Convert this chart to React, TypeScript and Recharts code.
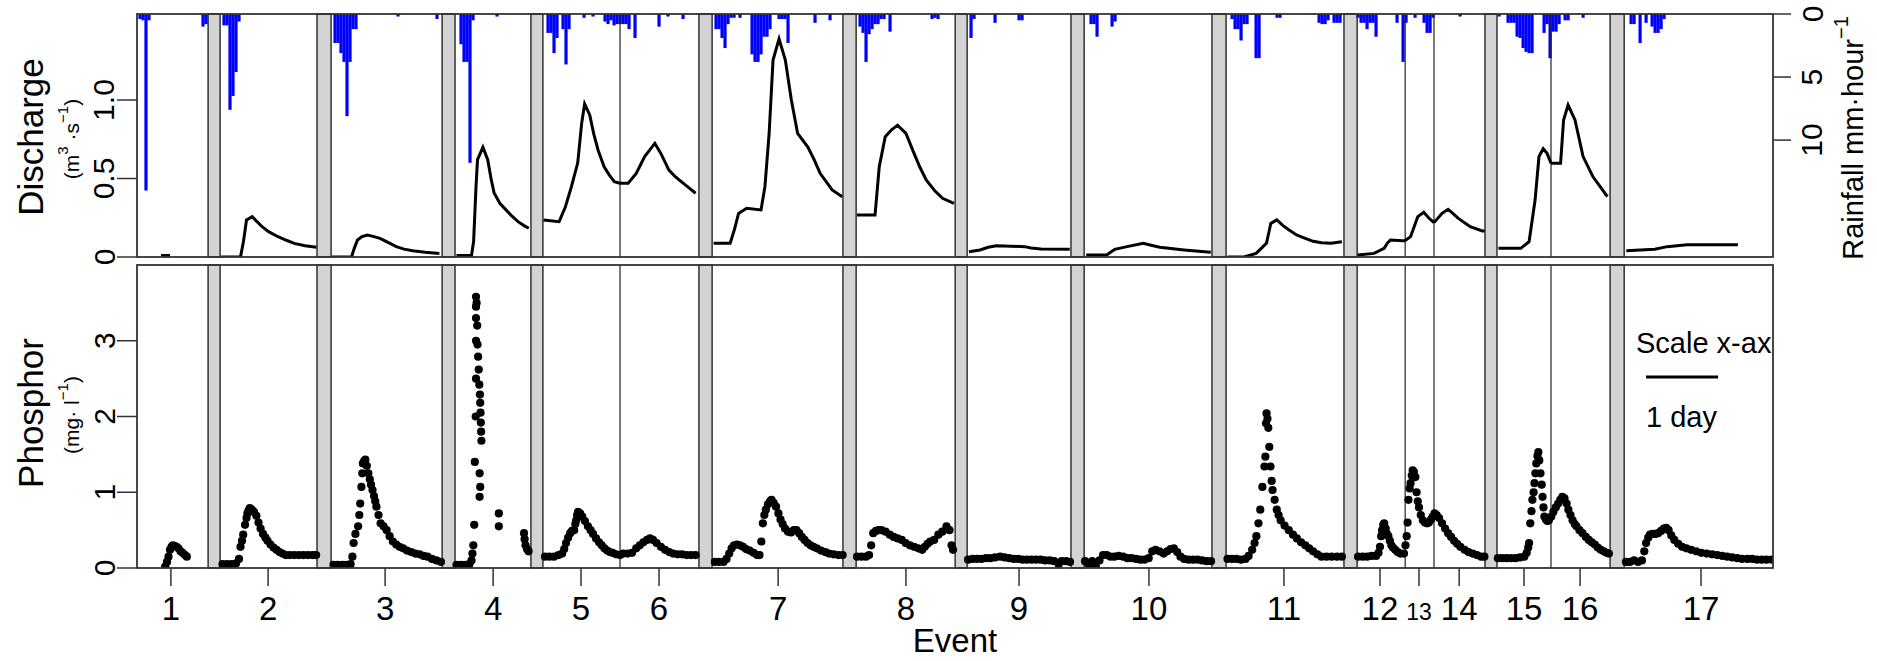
import React from 'react';
import { ComposedChart, Line, Bar, Scatter, XAxis, YAxis, ReferenceArea, ReferenceLine } from 'recharts';

const FONT = '"Liberation Sans", Arial, Helvetica, sans-serif';

// x axis = elapsed hours, events laid end to end
const X_MAX = 545.3;

const eventLabels = ['1', '2', '3', '4', '5', '6', '7', '8', '9', '10', '11', '12', '13', '14', '15', '16', '17'];
const eventTicks = [11.3, 43.7, 82.7, 118.7, 148, 174, 213.7, 256.3, 294, 337.3, 382.3, 414.3, 427.3, 440.7, 462.3, 481, 521.3];

// grey gaps between events (hours)
const gapStart = [23.7, 60, 101.7, 131.3, 187.3, 235.3, 272.7, 311.3, 358.3, 402.3, 449.3, 491];
const gapEnd = [27.7, 64.7, 106, 135.3, 191.7, 239.7, 276.7, 315.7, 363, 406.7, 453.3, 495.7];
// events that follow each other directly
const splitLines = [161, 422.7, 432.3, 471.3];

// rainfall [hour, mm/h]
const rainfall: [number, number][] = [
  [1, 0.4], [2, 0.5], [3, 14], [4, 0.5], [22, 1.0], [23, 0.8],
  [29, 0.9], [30, 0.9], [31, 7.6], [32, 6.5], [33, 4.6], [34, 0.6],
  [66, 2.3], [67, 2.3], [68, 3.1], [69, 3.8], [70, 8.1], [71, 3.8], [72, 1.2], [73, 1.2], [87, 0.2], [100, 0.4],
  [108, 2.4], [109, 3.8], [110, 3.8], [111, 11.8], [112, 0.5], [120, 0.2],
  [137, 1.5], [138, 1.5], [139, 3.1], [140, 1.9], [142, 1.2], [143, 4.0], [144, 1.2], [149, 0.3], [152, 0.2],
  [156, 0.6], [157, 0.8], [158, 0.5], [159, 0.9], [160, 0.8],
  [161, 0.8], [162, 0.8], [163, 0.8], [164, 1.2], [166, 1.9], [174, 1.0], [177, 0.2], [182, 0.4],
  [193, 1.2], [194, 1.2], [195, 1.9], [196, 2.7], [197, 0.8], [198, 0.3], [199, 0.3], [201, 0.3],
  [205, 3.2], [206, 3.8], [207, 3.8], [208, 3.2], [209, 1.8], [210, 1.8], [211, 1.2], [214, 0.4], [215, 0.4],
  [216, 0.4], [217, 2.3], [226, 0.7], [231, 0.5],
  [241, 1.0], [242, 1.5], [243, 3.8], [244, 1.6], [245, 1.2], [246, 0.8], [247, 0.8], [248, 0.4], [249, 0.4],
  [251, 1.4], [265, 0.4], [266, 0.3], [267, 0.4],
  [278, 1.9], [279, 0.4], [286, 0.7], [294, 0.5], [295, 0.5],
  [318, 0.8], [319, 0.8], [320, 1.8], [325, 1.0], [326, 0.6],
  [365, 0.4], [366, 1.2], [367, 1.2], [368, 2.1], [369, 0.8], [370, 0.8], [373, 3.5], [374, 3.5], [380, 0.3],
  [381, 0.3], [394, 0.7], [395, 0.8], [396, 0.8], [397, 0.5], [399, 0.7], [400, 0.7], [401, 0.7],
  [407, 0.3], [408, 0.7], [409, 0.7], [410, 1.2], [411, 0.7], [412, 0.7], [413, 1.8], [420, 0.7], [422, 3.8],
  [423, 0.7], [426, 0.3], [429, 0.7], [430, 1.5], [431, 1.5], [432, 0.3], [441, 0.2],
  [454, 0.2], [457, 0.7], [458, 0.7], [459, 0.7], [460, 1.8], [461, 1.9], [462, 2.7], [463, 3.0], [464, 3.1],
  [465, 3.1], [469, 1.5], [470, 0.8], [471, 3.5],
  [472, 1.4], [473, 1.4], [474, 0.8], [476, 0.5], [477, 0.5], [482, 0.3],
  [498, 0.8], [499, 0.8], [501, 2.3], [503, 0.7], [505, 1.0], [506, 1.5], [507, 1.5], [508, 1.2], [509, 0.4],
];

// discharge [hour, m3/s] per event
const q1: [number, number][] = [[8, 0.01], [11, 0.01]];
const q2: [number, number][] = [[28, 0.0], [34.5, 0.0], [35.5, 0.1], [36.5, 0.236], [38.4, 0.257], [40, 0.225], [41.7, 0.193], [44, 0.16], [47, 0.129], [50, 0.105], [52.4, 0.087], [56, 0.072], [59.8, 0.062]];
const q3: [number, number][] = [[65, 0.0], [71.5, 0.0], [72.5, 0.06], [73.5, 0.108], [75, 0.13], [76.8, 0.14], [79, 0.13], [81, 0.119], [84, 0.09], [86.4, 0.066], [89, 0.05], [91.9, 0.04], [96, 0.03], [100.8, 0.023]];
const q4: [number, number][] = [[106.5, 0.01], [111.5, 0.01], [112.2, 0.1], [113, 0.45], [113.5, 0.62], [115.3, 0.7], [116.9, 0.62], [118, 0.5], [119, 0.41], [121, 0.34], [123, 0.3], [125, 0.26], [127, 0.225], [129, 0.2], [130.6, 0.183]];
const q5: [number, number][] = [[135.5, 0.236], [140.7, 0.225], [142.8, 0.32], [144.8, 0.448], [146.9, 0.6], [148.2, 0.85], [149.2, 0.975], [150.9, 0.905], [152.3, 0.78], [153.7, 0.68], [155.7, 0.575], [157.5, 0.52], [159.1, 0.48], [161, 0.47]];
const q6: [number, number][] = [[161, 0.47], [163.7, 0.47], [166.4, 0.533], [169.2, 0.64], [172.6, 0.724], [174.6, 0.66], [177.3, 0.554], [179.5, 0.51], [181.4, 0.48], [184, 0.44], [186.2, 0.406]];
const q7: [number, number][] = [[192.2, 0.087], [197.7, 0.087], [199.2, 0.18], [200.5, 0.278], [203.2, 0.31], [208, 0.3], [209.3, 0.448], [210.7, 0.787], [212, 1.255], [214, 1.39], [216.1, 1.255], [218.1, 1.0], [220.2, 0.787], [223.6, 0.7], [225.7, 0.62], [227.7, 0.533], [231.7, 0.427], [235.1, 0.384]];
const q8: [number, number][] = [[240, 0.267], [246, 0.267], [247.4, 0.575], [249.4, 0.766], [251.5, 0.81], [253.5, 0.84], [256.3, 0.787], [259, 0.66], [261, 0.57], [263.1, 0.49], [266, 0.42], [268.5, 0.374], [272.3, 0.342]];
const q9: [number, number][] = [[277.3, 0.034], [281, 0.045], [283.7, 0.062], [286.4, 0.072], [295.9, 0.066], [298, 0.058], [301.3, 0.051], [310.9, 0.049]];
const q10: [number, number][] = [[316.4, 0.013], [323.2, 0.013], [325.9, 0.049], [330, 0.066], [335.4, 0.087], [338, 0.075], [340.9, 0.062], [349, 0.045], [357.9, 0.03]];
const q11: [number, number][] = [[363.5, 0.0], [369, 0.0], [373, 0.023], [375, 0.06], [376.5, 0.089], [377.9, 0.214], [379.9, 0.236], [382, 0.2], [384, 0.172], [386.5, 0.14], [389.4, 0.119], [392, 0.1], [394.8, 0.091], [398, 0.088], [401.6, 0.097]];
const q12: [number, number][] = [[406.9, 0.013], [412.3, 0.023], [415.7, 0.055], [416.8, 0.09], [417.8, 0.108], [421.8, 0.104], [422.7, 0.104]];
const q13: [number, number][] = [[422.7, 0.104], [424.5, 0.13], [425.3, 0.172], [426.9, 0.257], [428.9, 0.285], [430.5, 0.25], [432.3, 0.219]];
const q14: [number, number][] = [[432.3, 0.219], [435, 0.278], [437, 0.304], [438.5, 0.28], [440.4, 0.246], [444.4, 0.193], [448.4, 0.166], [449.2, 0.165]];
const q15: [number, number][] = [[453.8, 0.055], [461.2, 0.055], [464, 0.097], [466, 0.363], [467.3, 0.64], [468.7, 0.69], [470, 0.66], [471.3, 0.597]];
const q16: [number, number][] = [[471.3, 0.597], [474.5, 0.597], [475.5, 0.873], [477, 0.968], [479.3, 0.873], [482, 0.64], [485.3, 0.511], [488, 0.44], [490.1, 0.384]];
const q17: [number, number][] = [[496.4, 0.04], [505.9, 0.049], [510, 0.066], [516.7, 0.078], [533.6, 0.078]];

// phosphorus [hour, mg/l] per event
const p1: [number, number][] = [[9.4, 0.02], [10, 0.08], [10.5, 0.15], [11, 0.24], [11.5, 0.28], [12, 0.3], [12.6, 0.29], [13.2, 0.28], [13.8, 0.26], [14.5, 0.22], [15.2, 0.2], [16, 0.17], [16.6, 0.15]];
const p2: [number, number][] = [[28.5, 0.05], [30, 0.05], [31.5, 0.05], [33, 0.06], [34, 0.12], [34.5, 0.28], [35, 0.36], [35.4, 0.44], [36, 0.57], [36.5, 0.66], [36.8, 0.72], [37.2, 0.76], [37.6, 0.79], [38.3, 0.77], [39, 0.74], [39.8, 0.69], [40.5, 0.6], [41.2, 0.52], [42, 0.45], [42.8, 0.4], [43.5, 0.36], [44.5, 0.31], [45.5, 0.27], [46.5, 0.24], [47.5, 0.21], [48.5, 0.19], [49.6, 0.17], [51, 0.17], [52.5, 0.17], [54, 0.17], [55.5, 0.17], [57, 0.17], [58.5, 0.17], [59.7, 0.17]];
const p3: [number, number][] = [[65.5, 0.04], [67, 0.04], [68.5, 0.04], [70, 0.04], [71.2, 0.05], [71.8, 0.15], [72.2, 0.33], [72.8, 0.45], [73.7, 0.55], [74.1, 0.7], [74.4, 0.85], [74.8, 1.07], [75.1, 1.25], [75.3, 1.38], [75.7, 1.41], [76.1, 1.43], [76.6, 1.35], [77.1, 1.25], [77.6, 1.17], [78, 1.1], [78.5, 1.03], [79, 0.95], [79.4, 0.88], [79.8, 0.81], [80.5, 0.7], [81.2, 0.59], [82.2, 0.55], [83.2, 0.5], [84.2, 0.42], [85.3, 0.35], [86.4, 0.31], [87.5, 0.28], [88.7, 0.26], [90, 0.23], [91.4, 0.21], [92.8, 0.19], [94.2, 0.18], [95.5, 0.16], [96.8, 0.15], [98.3, 0.12], [99.8, 0.1], [101.3, 0.08]];
const p4: [number, number][] = [[106.5, 0.04], [108, 0.04], [109.5, 0.04], [110.8, 0.05], [111.5, 0.1], [111.8, 0.19], [112.1, 0.3], [112.4, 0.57], [112.6, 1.4], [112.9, 2.0], [113, 2.5], [113, 3.0], [113, 3.3], [113, 3.45], [113, 3.58], [113.2, 3.5], [113.4, 3.2], [113.5, 2.95], [113.7, 2.79], [113.9, 2.62], [114.1, 2.42], [114.3, 2.29], [114.4, 2.18], [114.5, 2.05], [114.6, 1.92], [114.7, 1.8], [114.8, 1.68], [114.2, 1.25], [114.4, 1.07], [114.2, 0.94], [120.6, 0.72], [120.6, 0.55], [129, 0.46], [129.2, 0.38], [129.5, 0.3], [130, 0.25], [130.5, 0.22]];
const p5: [number, number][] = [[136, 0.15], [137.5, 0.15], [139, 0.15], [140.5, 0.17], [141.7, 0.19], [142.4, 0.25], [143, 0.33], [143.7, 0.4], [144.4, 0.46], [145, 0.49], [145.7, 0.5], [146.1, 0.58], [146.4, 0.63], [146.7, 0.7], [147, 0.74], [147.7, 0.72], [148.4, 0.68], [149.3, 0.62], [150.3, 0.55], [151.2, 0.5], [152, 0.45], [153, 0.39], [154, 0.34], [154.9, 0.3], [155.8, 0.26], [156.7, 0.23], [157.6, 0.21], [158.5, 0.2], [159.7, 0.18], [161, 0.17]];
const p6: [number, number][] = [[162, 0.19], [163.5, 0.19], [165, 0.2], [166.4, 0.26], [167.6, 0.3], [168.8, 0.34], [170, 0.37], [171, 0.39], [172, 0.37], [173.2, 0.33], [174.6, 0.28], [176, 0.24], [177.4, 0.21], [178.7, 0.19], [180.2, 0.18], [181.7, 0.18], [183.2, 0.17], [184.7, 0.17], [186.2, 0.17]];
const p7: [number, number][] = [[192.6, 0.08], [194, 0.08], [195.5, 0.08], [196.5, 0.12], [197.4, 0.19], [198.2, 0.26], [199, 0.3], [200, 0.31], [201, 0.3], [202, 0.28], [203, 0.25], [204.2, 0.23], [205.5, 0.2], [206.7, 0.17], [207.5, 0.17], [208.1, 0.35], [208.6, 0.59], [209.1, 0.7], [209.6, 0.77], [210.3, 0.84], [211, 0.88], [211.5, 0.9], [212.2, 0.86], [213, 0.81], [213.8, 0.72], [214.5, 0.64], [215.2, 0.58], [216, 0.52], [217, 0.48], [218, 0.47], [218.9, 0.5], [219.8, 0.5], [220.7, 0.46], [221.6, 0.41], [222.5, 0.37], [223.5, 0.33], [224.5, 0.3], [225.5, 0.28], [226.6, 0.26], [228, 0.23], [229.4, 0.21], [230.7, 0.19], [232.2, 0.18], [233.8, 0.17], [235.2, 0.17]];
const p8: [number, number][] = [[240, 0.15], [241.5, 0.15], [243, 0.15], [244, 0.17], [244.7, 0.3], [245.4, 0.46], [246.3, 0.49], [247.2, 0.5], [248.1, 0.5], [249.5, 0.48], [250.9, 0.44], [252.2, 0.41], [253.5, 0.39], [254.9, 0.37], [256.2, 0.33], [257.6, 0.3], [259, 0.28], [260.4, 0.26], [261.7, 0.24], [262.6, 0.28], [263.5, 0.32], [264.4, 0.35], [265.7, 0.37], [267.1, 0.44], [268.4, 0.48], [269.8, 0.55], [270.8, 0.5], [271.5, 0.3], [272, 0.24]];
const p9: [number, number][] = [[277, 0.11], [278.5, 0.12], [280, 0.12], [281.5, 0.12], [283, 0.13], [284.5, 0.13], [286, 0.14], [287.7, 0.15], [289.2, 0.14], [290.7, 0.13], [292.2, 0.12], [293.7, 0.12], [295.2, 0.11], [296.7, 0.11], [298.2, 0.11], [299.7, 0.11], [301.2, 0.11], [302.7, 0.1], [304.2, 0.1], [305.7, 0.09], [307.2, 0.05], [308.2, 0.09], [309.7, 0.09], [311, 0.08]];
const p10: [number, number][] = [[316, 0.09], [317.2, 0.05], [318.4, 0.09], [319.6, 0.02], [320.8, 0.1], [322, 0.17], [323.2, 0.17], [324.5, 0.15], [325.8, 0.15], [327.2, 0.16], [328.7, 0.15], [330.1, 0.13], [331.5, 0.13], [333, 0.12], [334.4, 0.11], [335.8, 0.11], [337.2, 0.13], [338.4, 0.22], [339.5, 0.24], [340.8, 0.22], [342.2, 0.19], [343.4, 0.22], [344.5, 0.25], [345.6, 0.26], [346.7, 0.21], [347.8, 0.15], [349, 0.12], [350.5, 0.11], [352, 0.11], [353.5, 0.11], [355, 0.1], [356.5, 0.09], [358, 0.09]];
const p11: [number, number][] = [[363.5, 0.12], [365, 0.12], [366.5, 0.12], [368, 0.11], [369.5, 0.12], [370.5, 0.16], [371.7, 0.24], [372.5, 0.33], [373.1, 0.42], [373.8, 0.59], [374.4, 0.77], [375.1, 1.07], [375.8, 1.34], [376.1, 1.47], [376.3, 1.91], [376.5, 2.04], [376.8, 1.97], [377.1, 1.85], [377.4, 1.6], [377.8, 1.34], [378.2, 1.15], [378.5, 1.03], [379.2, 0.9], [379.9, 0.77], [380.5, 0.7], [381.2, 0.63], [382.5, 0.56], [383.9, 0.5], [385.3, 0.44], [386.6, 0.39], [388, 0.34], [389.4, 0.3], [390.7, 0.26], [392, 0.22], [393.4, 0.18], [394.8, 0.15], [396.5, 0.15], [398.2, 0.15], [400, 0.15], [401.6, 0.15]];
const p12: [number, number][] = [[407, 0.15], [408.5, 0.15], [410, 0.15], [411.5, 0.16], [413, 0.16], [413.8, 0.2], [414.3, 0.28], [414.7, 0.42], [415, 0.5], [415.4, 0.57], [415.7, 0.59], [416.2, 0.52], [416.6, 0.45], [417.1, 0.42], [417.6, 0.36], [418.1, 0.3], [418.6, 0.27], [419.4, 0.24], [420.2, 0.21], [421.1, 0.19], [422.3, 0.19]];
const p13: [number, number][] = [[422.8, 0.3], [423.2, 0.42], [423.5, 0.6], [423.8, 0.9], [424.2, 1.05], [424.5, 1.12], [424.9, 1.22], [425.2, 1.29], [425.6, 1.27], [426.1, 1.2], [426.5, 1.0], [426.9, 0.88], [427.3, 0.8], [427.9, 0.7], [428.6, 0.63], [429.3, 0.6], [430, 0.59], [430.6, 0.6], [431.3, 0.64], [431.9, 0.68]];
const p14: [number, number][] = [[432.5, 0.72], [433.2, 0.7], [434, 0.66], [435, 0.59], [436, 0.52], [437, 0.46], [438, 0.41], [439, 0.36], [440, 0.32], [441.1, 0.28], [442.5, 0.24], [443.8, 0.21], [445.2, 0.19], [446.6, 0.17], [448, 0.15], [449.1, 0.15]];
const p15: [number, number][] = [[453.6, 0.13], [455, 0.13], [456.5, 0.13], [458, 0.13], [459.5, 0.13], [461, 0.14], [462.4, 0.15], [463.2, 0.2], [463.7, 0.27], [464, 0.33], [464.4, 0.59], [464.8, 0.75], [465.1, 0.9], [465.5, 1.0], [465.8, 1.12], [466.1, 1.25], [466.4, 1.38], [466.8, 1.48], [467.1, 1.53], [467.4, 1.42], [467.8, 1.25], [468.2, 1.1], [468.5, 0.94], [468.8, 0.8], [469.1, 0.68], [469.6, 0.64], [470.1, 0.62], [470.6, 0.63]];
const p16: [number, number][] = [[471.4, 0.68], [472.1, 0.74], [472.9, 0.8], [473.7, 0.85], [474.4, 0.9], [475.1, 0.94], [475.8, 0.92], [476.5, 0.85], [477.1, 0.77], [477.8, 0.7], [478.5, 0.63], [479.2, 0.58], [479.8, 0.55], [480.8, 0.5], [481.8, 0.46], [482.9, 0.41], [483.9, 0.37], [484.9, 0.34], [485.9, 0.31], [486.9, 0.27], [487.9, 0.24], [488.9, 0.22], [489.8, 0.2], [490.6, 0.19]];
const p17: [number, number][] = [[496.3, 0.08], [497.6, 0.08], [499, 0.1], [500.3, 0.08], [501.6, 0.1], [502.4, 0.22], [503, 0.33], [503.7, 0.4], [504.3, 0.44], [505.2, 0.45], [506.1, 0.45], [507, 0.46], [508, 0.49], [508.9, 0.52], [509.7, 0.53], [510.5, 0.5], [511.4, 0.43], [512.4, 0.37], [513.7, 0.32], [515, 0.28], [516.4, 0.26], [518, 0.24], [519.7, 0.22], [521.4, 0.2], [523.2, 0.19], [525, 0.18], [526.7, 0.17], [528.4, 0.16], [530, 0.15], [531.7, 0.14], [533.4, 0.13], [535, 0.12], [536.8, 0.12], [538.4, 0.12], [540, 0.11], [541.6, 0.11], [543.2, 0.11], [545, 0.11]];

const dischargeEvents = [q1, q2, q3, q4, q5, q6, q7, q8, q9, q10, q11, q12, q13, q14, q15, q16, q17];
const phosphorEvents = [p1, p2, p3, p4, p5, p6, p7, p8, p9, p10, p11, p12, p13, p14, p15, p16, p17];

// scale bar: one day drawn in the lower panel
const scaleBarStart = 503;
const scaleBarHours = 24;
const scaleBarLevel = 2.52;

const rainData = rainfall.map(([h, mm]) => ({ h, rain: mm }));
const dischargeData = dischargeEvents.flatMap((ev) => [
  ...ev.map(([h, q]) => ({ h, q })),
  { h: ev[ev.length - 1][0] + 0.01, q: null },
]);
const phosphorData = phosphorEvents.flat().map(([h, p]) => ({ h, p }));

const tickLineStyle = { stroke: '#333', strokeWidth: 1.5 };

const LeftTick = (props: any) => {
  const { x, y, payload, digits } = props;
  const v = payload.value;
  const label = v === 0 ? '0' : digits ? v.toFixed(1) : String(v);
  const cx = x - 11;
  return (
    <text x={cx} y={y} transform={`rotate(-90 ${cx} ${y})`} textAnchor="middle" dominantBaseline="central"
      fontSize={30} fontFamily={FONT} fill="#000">{label}</text>
  );
};

const RightTick = (props: any) => {
  const { x, y, payload } = props;
  const cx = x + 19;
  return (
    <text x={cx} y={y} transform={`rotate(-90 ${cx} ${y})`} textAnchor="middle" dominantBaseline="central"
      fontSize={30} fontFamily={FONT} fill="#000">{payload.value}</text>
  );
};

const EventTick = (props: any) => {
  const { x, y, payload } = props;
  const i = eventTicks.indexOf(payload.value);
  const label = eventLabels[i];
  return (
    <text x={x} y={y + 32} textAnchor="middle" fontSize={label === '13' ? 23 : 33} fontFamily={FONT} fill="#000">{label}</text>
  );
};

// hourly rain bar, hanging from the top of the reversed axis
const RainBar = (props: any) => {
  const { x, y, width, height } = props;
  if (!height) return null;
  const cx = x + width / 2;
  const top = Math.min(y, y + height);
  return <rect x={cx - 1.6} y={top} width={3.2} height={Math.abs(height)} fill="#0000ff" />;
};

const Dot = (props: any) => <circle cx={props.cx} cy={props.cy} r={4.1} fill="#000" />;

const gapAreas = (axisId: string) =>
  gapStart.map((s, i) => (
    <ReferenceArea key={`gap-${axisId}-${i}`} yAxisId={axisId} x1={s} x2={gapEnd[i]}
      fill="#d3d3d3" fillOpacity={1} stroke="#333" strokeWidth={1.5} />
  ));

const splitRefs = (axisId: string) =>
  splitLines.map((x, i) => (
    <ReferenceLine key={`split-${axisId}-${i}`} yAxisId={axisId} x={x} stroke="#222" strokeWidth={1.2} />
  ));

export default function App() {
  return (
    <div style={{ position: 'absolute', left: 0, top: 0, width: 1877, height: 661, background: '#fff', overflow: 'hidden' }}>
      <div style={{ position: 'absolute', left: 0, top: 0 }}>
        <ComposedChart width={1877} height={280} data={rainData} margin={{ top: 14, right: 0, bottom: 23, left: 0 }}>
          <XAxis dataKey="h" type="number" domain={[0, X_MAX]} allowDataOverflow hide />
          <YAxis yAxisId="q" domain={[0, 1.548]} ticks={[0, 0.5, 1]} interval={0} allowDataOverflow width={137}
            tickSize={20} tickMargin={2} axisLine={false} tickLine={tickLineStyle}
            tick={(p: any) => <LeftTick {...p} digits />} />
          <YAxis yAxisId="rain" orientation="right" reversed domain={[0, 19.27]} ticks={[0, 5, 10]} interval={0}
            allowDataOverflow width={104} tickSize={18} tickMargin={2} axisLine={false} tickLine={tickLineStyle}
            tick={(p: any) => <RightTick {...p} />} />
          {gapAreas('q')}
          {splitRefs('q')}
          <Bar yAxisId="rain" dataKey="rain" fill="#0000ff" barSize={3} shape={RainBar} isAnimationActive={false} />
          <Line yAxisId="q" data={dischargeData} dataKey="q" type="linear" stroke="#000" strokeWidth={3}
            dot={false} activeDot={false} connectNulls={false} isAnimationActive={false} />
        </ComposedChart>
      </div>
      <div style={{ position: 'absolute', left: 0, top: 258 }}>
        <ComposedChart width={1877} height={403} data={phosphorData} margin={{ top: 7, right: 104, bottom: 33, left: 0 }}>
          <XAxis dataKey="h" type="number" domain={[0, X_MAX]} allowDataOverflow ticks={eventTicks} interval={0}
            tickSize={18} tickMargin={2} height={60} axisLine={false} tickLine={tickLineStyle}
            tick={(p: any) => <EventTick {...p} />} />
          <YAxis yAxisId="p" domain={[0, 4]} ticks={[0, 1, 2, 3]} interval={0} allowDataOverflow width={137}
            tickSize={20} tickMargin={2} axisLine={false} tickLine={tickLineStyle}
            tick={(p: any) => <LeftTick {...p} />} />
          {gapAreas('p')}
          {splitRefs('p')}
          <Scatter yAxisId="p" dataKey="p" shape={Dot} isAnimationActive={false} />
          <ReferenceLine yAxisId="p"
            segment={[{ x: scaleBarStart, y: scaleBarLevel }, { x: scaleBarStart + scaleBarHours, y: scaleBarLevel }]}
            stroke="#000" strokeWidth={3} />
        </ComposedChart>
      </div>
      <svg width={1877} height={661} style={{ position: 'absolute', left: 0, top: 0, pointerEvents: 'none' }}
        fontFamily={FONT}>
        <defs>
          <clipPath id="lowerPlot">
            <rect x={137} y={265} width={1636} height={303} />
          </clipPath>
        </defs>
        <rect x={137} y={14} width={1636} height={243} fill="none" stroke="#333" strokeWidth={1.8} />
        <rect x={137} y={265} width={1636} height={303} fill="none" stroke="#333" strokeWidth={1.8} />
        <text transform="translate(30,137) rotate(-90)" textAnchor="middle" dominantBaseline="central" fontSize={35}>Discharge</text>
        <text transform="translate(71,139) rotate(-90)" textAnchor="middle" dominantBaseline="central" fontSize={21}>
          (m<tspan fontSize={15} dy={-9}>3</tspan><tspan dy={9}> ·s</tspan><tspan fontSize={15} dy={-9}>−1</tspan><tspan dy={9}>)</tspan>
        </text>
        <text transform="translate(30,413) rotate(-90)" textAnchor="middle" dominantBaseline="central" fontSize={35}>Phosphor</text>
        <text transform="translate(71,415) rotate(-90)" textAnchor="middle" dominantBaseline="central" fontSize={21}>
          (mg· l<tspan fontSize={15} dy={-9}>−1</tspan><tspan dy={9}>)</tspan>
        </text>
        <text transform="translate(1853,138) rotate(-90)" textAnchor="middle" dominantBaseline="central" fontSize={29}>
          Rainfall mm·hour<tspan fontSize={20} dy={-12}>−1</tspan>
        </text>
        <text x={955} y={652} textAnchor="middle" fontSize={33}>Event</text>
        <g clipPath="url(#lowerPlot)">
          <text x={1636} y={353} fontSize={29}>Scale x-axis</text>
        </g>
        <text x={1646} y={427} fontSize={29}>1 day</text>
      </svg>
    </div>
  );
}
